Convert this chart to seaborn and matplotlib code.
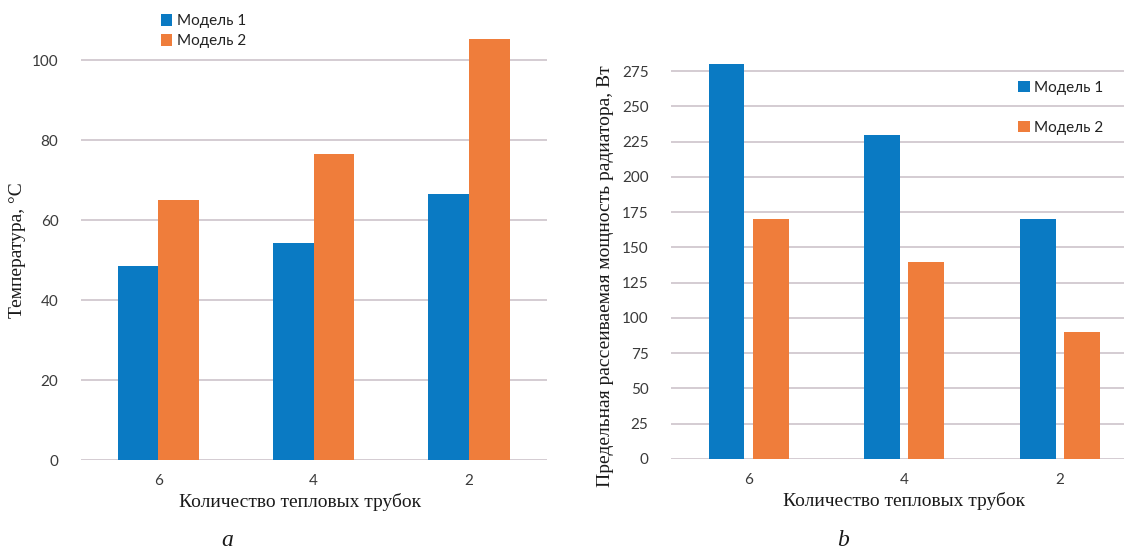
import pandas as pd
import matplotlib
matplotlib.use('Agg')
import matplotlib.pyplot as plt
import seaborn as sns
from matplotlib.patches import Patch

# data
tubes = ['6', '4', '2']
models = ['Модель 1', 'Модель 2']
temp_m1 = [48.5, 54.2, 66.4]
temp_m2 = [65.0, 76.4, 105.2]
power_m1 = [280, 230, 170]
power_m2 = [170, 140, 90]
temp_ticks = [0, 20, 40, 60, 80, 100]
power_ticks = list(range(0, 276, 25))

colors = ['#0a7ac3', '#ef7d3b']
grid_col = '#c9bfc6'
sans = 'Lato'
serif = 'Liberation Serif'


def long_frame(v1, v2):
    return pd.DataFrame({
        'tubes': tubes * 2,
        'model': [models[0]] * 3 + [models[1]] * 3,
        'value': v1 + v2,
    })


sns.set_theme(style='white')
plt.rcParams['font.family'] = [sans, 'DejaVu Sans']

fig = plt.figure(figsize=(11.24, 5.58), dpi=100)
W, H = 1124, 558


def px_axes(x0, top, x1, bottom):
    return fig.add_axes([x0 / W, 1 - bottom / H, (x1 - x0) / W, (bottom - top) / H])


# 1. Temperature chart
ax1 = px_axes(80.7, 12, 546.7, 460)
sns.barplot(data=long_frame(temp_m1, temp_m2), x='tubes', y='value', hue='model',
            order=tubes, hue_order=models, palette=colors, width=0.523, gap=0,
            saturation=1, legend=False, ax=ax1)
ax1.set_ylim(0, 112)
ax1.set_yticks(temp_ticks)

# 2. Power chart (cut off at the right edge, like the original)
ax2 = px_axes(670.7, 57, 1137.7, 459)
sns.barplot(data=long_frame(power_m1, power_m2), x='tubes', y='value', hue='model',
            order=tubes, hue_order=models, palette=colors, width=0.568, gap=0.19,
            saturation=1, legend=False, ax=ax2)
ax2.set_ylim(0, 285)
ax2.set_yticks(power_ticks)

for ax in (ax1, ax2):
    ax.set_xlabel('')
    ax.set_ylabel('')
    sns.despine(ax=ax, left=True, bottom=True)
    ax.yaxis.grid(True, color=grid_col, linewidth=1.1)
    ax.set_axisbelow(True)
    ax.tick_params(axis='both', length=0, labelsize=11, colors='#3a3a3a')
    ax.tick_params(axis='y', pad=16)
    ax.tick_params(axis='x', pad=10)
    for p in ax.patches:
        p.set_edgecolor('none')

handles = [Patch(facecolor=c, edgecolor='none') for c in colors]
ax1.legend(handles, models, loc='upper left', bbox_to_anchor=(0.172, 0.995),
           frameon=False, borderpad=0, borderaxespad=0, handlelength=0.75,
           handleheight=0.75, handletextpad=0.3, labelspacing=0.4,
           fontsize=11, labelcolor='#222222')
ax2.legend(handles, models, loc='upper left', bbox_to_anchor=(0.744, 0.94),
           frameon=False, borderpad=0, borderaxespad=0, handlelength=0.75,
           handleheight=0.75, handletextpad=0.3, labelspacing=1.7,
           fontsize=11, labelcolor='#222222')

# axis titles and panel letters
lab = dict(family=serif, fontsize=14, color='#1a1a1a')
fig.text(300 / W, 1 - 502 / H, 'Количество тепловых трубок', ha='center', va='center', **lab)
fig.text(904 / W, 1 - 501 / H, 'Количество тепловых трубок', ha='center', va='center', **lab)
fig.text(18 / W, 1 - 250 / H, 'Температура, °С', rotation=90, ha='center', va='center', **lab)
fig.text(605 / W, 1 - 276 / H, 'Предельная рассеиваемая мощность радиатора, Вт',
         rotation=90, ha='center', va='center', **lab)
fig.text(227 / W, 1 - 540 / H, 'a', style='italic', ha='center', va='center',
         family=serif, fontsize=17, color='#1a1a1a')
fig.text(843 / W, 1 - 540 / H, 'b', style='italic', ha='center', va='center',
         family=serif, fontsize=17, color='#1a1a1a')

fig.savefig('out.png', dpi=100)
